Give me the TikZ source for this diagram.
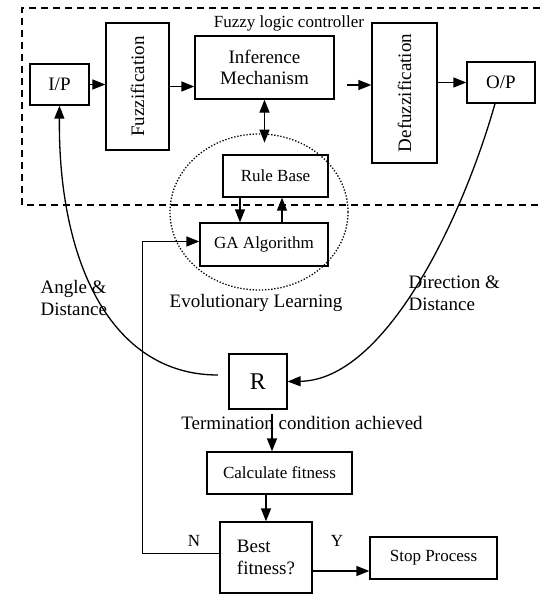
\documentclass[tikz,border=0pt]{standalone}
\usepackage{fontspec}
\setmainfont{Liberation Serif}
\usetikzlibrary{arrows.meta,calc}

\begin{document}
\begin{tikzpicture}[
    x=1pt, y=-1pt,
    box/.style={draw=black, line width=1.3pt, align=center, font=\fontsize{17}{20}\selectfont},
    bigbox/.style={box, font=\fontsize{19}{21}\selectfont},
    arrow/.style={-{Triangle[length=13pt, width=10pt]}, line width=1.3pt},
    twoway/.style={{Triangle[length=13pt, width=10pt]}-{Triangle[length=13pt, width=10pt]}, line width=1.3pt},
    label/.style={font=\fontsize{19}{22}\selectfont, align=left},
    sublabel/.style={font=\fontsize{17}{20}\selectfont}
]
\useasboundingbox (0,0) rectangle (540,594);

% === Fuzzy logic controller ===
\draw[line width=1.5pt, dash pattern=on 7pt off 5pt] (540,8) -- (22,8) -- (22,205) -- (540,205);
\node[sublabel] (flc) at (289,23) {Fuzzy logic controller};

\node[bigbox, minimum width=59pt, minimum height=41pt] (ip) at (59.5,84.5) {I/P};
\node[bigbox, minimum width=63pt, minimum height=127pt] (fuzz) at (137.5,86.5) {\rotatebox{90}{Fuzzification}};
\node[bigbox, minimum width=139pt, minimum height=63pt] (infer) at (264.5,67.5) {Inference\\Mechanism};
\node[bigbox, minimum width=65pt, minimum height=140pt] (defuzz) at (404.5,93) {\rotatebox{90}{Defuzzification}};
\node[bigbox, minimum width=68pt, minimum height=41pt] (op) at (501,82.5) {O/P};

% Arrows along the controller
\coordinate (infout) at (347,85);
\draw[arrow] (ip.east) -- (ip.east -| fuzz.west);
\draw[arrow] (fuzz.east) -- (fuzz.east -| infer.west);
\draw[arrow] (infout) -- (infout -| defuzz.west);
\draw[arrow] (defuzz.east |- op.west) -- (op.west);

% === Evolutionary learning ===
\node[box, minimum width=105pt, minimum height=42pt] (rule) at (275.5,176) {Rule Base};
\node[box, minimum width=128pt, minimum height=43pt] (ga) at (264,244.5) {GA Algorithm};
\draw[line width=1.3pt, dash pattern=on 1.3pt off 1.8pt] (259,212) ellipse [x radius=89, y radius=78];
\node[label] (evo) at (256,303) {Evolutionary Learning};

\draw[twoway] (infer.south) -- ++(0,43);
\draw[arrow] ([xshift=-35.5pt]rule.south) -- ([xshift=-35.5pt]rule.south |- ga.north);
\draw[arrow] ([xshift=18pt]ga.north) -- ([xshift=18pt]ga.north |- rule.south);

% === Feedback through R ===
\node[box, font=\fontsize{24}{28}\selectfont, minimum width=58pt, minimum height=55pt] (rbox) at (258,381.5) {R};
\coordinate (rleft) at (218,375);
\draw[arrow] (rleft) .. controls (110,375) and (58,260) .. (ip.south);
\draw[arrow] ([xshift=-6pt]op.south) .. controls (462,220) and (385,380) .. (rbox.east);

\node[label, anchor=west] (angle) at (37,298) {Angle \&\\Distance};
\node[label, anchor=west] (dir) at (405,293) {Direction \&\\Distance};

% === Fitness loop ===
\node[label] (term) at (302,423) {Termination condition achieved};
\node[box, minimum width=145pt, minimum height=42pt] (calc) at (279.5,473) {Calculate fitness};
\node[box, font=\fontsize{19}{22}\selectfont, align=left, minimum width=92pt, minimum height=71pt] (best) at (266,557.5) {Best\\fitness?};
\node[box, minimum width=127pt, minimum height=42pt] (stop) at (433.5,558) {Stop Process};

\coordinate (tc) at (272,414);
\draw[arrow] (tc) -- (tc |- calc.north);
\draw[arrow] (best.north |- calc.south) -- (best.north);
\draw[arrow] ([yshift=-13.5pt]best.east) -- ([yshift=-13.5pt]best.east -| stop.west);
\draw[arrow] ([yshift=4pt]best.west) -- ++(-77,0) |- ([yshift=3pt]ga.west);

\node[sublabel] (nlab) at (194,541) {N};
\node[sublabel] (ylab) at (337,541) {Y};

\end{tikzpicture}
\end{document}
